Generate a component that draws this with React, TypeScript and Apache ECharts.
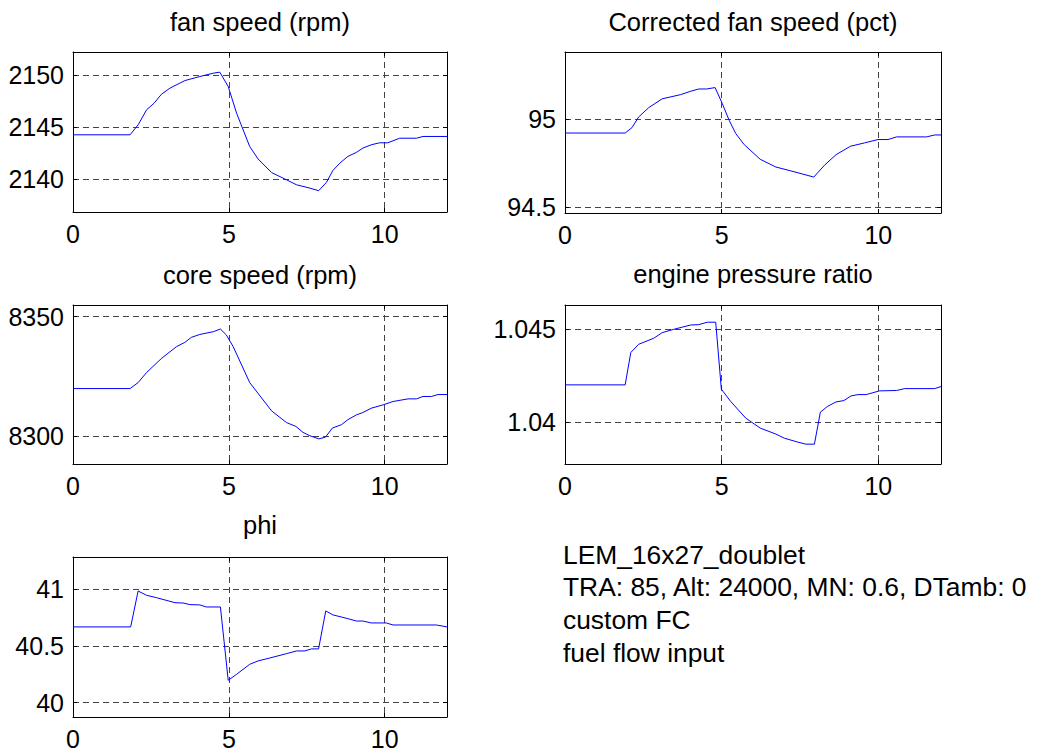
import React, { useEffect, useRef } from "react";
import * as echarts from "echarts";

const FONT = '"Liberation Sans", Arial, sans-serif';

const titles = [
  "fan speed (rpm)",
  "Corrected fan speed (pct)",
  "core speed (rpm)",
  "engine pressure ratio",
  "phi",
];

const infoLines = [
  "LEM_16x27_doublet",
  "TRA: 85, Alt: 24000, MN: 0.6, DTamb: 0",
  "custom FC",
  "fuel flow input",
];

const xRange = [0, 12];
const yRanges = [
  [2136.8, 2152.2],
  [94.466, 95.38],
  [8288.5, 8354.9],
  [1.03778, 1.04628],
  [39.873, 41.285],
];
const yIntervals = [5, 0.5, 50, 0.005, 0.5];
const xInterval = 5;

const fanSpeed: [number, number][] = [
  [0, 2144.23], [1.83, 2144.23], [2.09, 2145.19], [2.36, 2146.63], [2.6, 2147.27],
  [2.84, 2148.14], [3.11, 2148.72], [3.59, 2149.45], [4.07, 2149.84], [4.5, 2150.16],
  [4.71, 2150.26], [4.98, 2148.88], [5.25, 2146.3], [5.67, 2143.1], [5.94, 2141.9],
  [6.37, 2140.6], [6.85, 2139.9], [7.17, 2139.42], [7.6, 2139.1], [7.88, 2138.85],
  [8.13, 2139.64], [8.34, 2140.8], [8.56, 2141.5], [8.82, 2142.15], [9.09, 2142.53],
  [9.3, 2142.95], [9.57, 2143.27], [9.84, 2143.46], [10.1, 2143.46], [10.48, 2143.9],
  [11.02, 2143.9], [11.23, 2144.07], [12, 2144.07],
];

const correctedFanSpeed: [number, number][] = [
  [0, 94.92], [1.92, 94.92], [2.14, 94.951], [2.35, 95.011], [2.67, 95.064],
  [3.1, 95.114], [3.69, 95.138], [4.01, 95.157], [4.27, 95.17], [4.52, 95.17],
  [4.79, 95.178], [5.02, 95.087], [5.24, 94.992], [5.45, 94.917], [5.72, 94.854],
  [6.23, 94.771], [6.73, 94.727], [7.21, 94.705], [7.94, 94.67], [8.28, 94.737],
  [8.65, 94.797], [9.11, 94.845], [9.56, 94.864], [9.99, 94.883], [10.31, 94.883],
  [10.58, 94.898], [11.54, 94.898], [11.8, 94.909], [12, 94.909],
];

const coreSpeed: [number, number][] = [
  [0, 8320.0], [1.83, 8320.0], [2.09, 8322.5], [2.36, 8326.7], [2.84, 8332.6],
  [3.32, 8337.5], [3.59, 8339.3], [3.8, 8341.4], [4.07, 8342.6], [4.5, 8343.75],
  [4.73, 8344.86], [4.92, 8342.4], [5.14, 8337.5], [5.67, 8322.5], [6.37, 8310.7],
  [6.85, 8305.8], [7.15, 8304.2], [7.38, 8301.7], [7.6, 8300.3], [7.89, 8299.0],
  [8.1, 8299.7], [8.32, 8303.5], [8.61, 8304.9], [8.82, 8307.0], [9.09, 8309.0],
  [9.3, 8310.0], [9.57, 8311.8], [9.95, 8313.2], [10.27, 8314.6], [10.75, 8315.7],
  [11.02, 8315.7], [11.23, 8316.7], [11.5, 8316.7], [11.71, 8317.5], [12, 8317.5],
];

const pressureRatio: [number, number][] = [
  [0, 1.04201], [1.92, 1.04201], [2.1, 1.04374], [2.35, 1.04418], [2.83, 1.0445],
  [3.1, 1.0448], [3.47, 1.04498], [4.01, 1.04521], [4.27, 1.04523], [4.54, 1.04536],
  [4.81, 1.04536], [4.99, 1.04178], [5.29, 1.04112], [5.77, 1.04023], [6.23, 1.0397],
  [6.73, 1.03938], [7.0, 1.03916], [7.43, 1.03895], [7.69, 1.03884], [7.96, 1.03884],
  [8.15, 1.04055], [8.37, 1.04085], [8.65, 1.0411], [8.9, 1.04117], [9.13, 1.04142],
  [9.35, 1.04149], [9.61, 1.04149], [10.04, 1.04169], [10.58, 1.04171], [10.84, 1.04181],
  [11.8, 1.04181], [12, 1.04192],
];

const phi: [number, number][] = [
  [0, 40.668], [1.85, 40.668], [2.09, 40.985], [2.36, 40.947], [2.68, 40.926],
  [3.27, 40.882], [3.53, 40.879], [3.75, 40.865], [4.07, 40.862], [4.28, 40.844],
  [4.73, 40.844], [4.98, 40.197], [5.25, 40.25], [5.67, 40.338], [5.94, 40.368],
  [6.32, 40.394], [6.85, 40.432], [7.17, 40.456], [7.44, 40.456], [7.65, 40.474],
  [7.88, 40.474], [8.11, 40.809], [8.34, 40.774], [8.82, 40.741], [9.09, 40.72],
  [9.3, 40.72], [9.57, 40.703], [10.05, 40.703], [10.27, 40.685], [11.66, 40.685],
  [12, 40.668],
];

const seriesData = [fanSpeed, correctedFanSpeed, coreSpeed, pressureRatio, phi];

const gridBoxes = [
  { left: 73, top: 52, width: 374, height: 160 },
  { left: 565, top: 52, width: 376, height: 161 },
  { left: 73, top: 305, width: 374, height: 159 },
  { left: 565, top: 305, width: 376, height: 159 },
  { left: 73, top: 557, width: 374, height: 160 },
];
const titleCenters = [22, 22, 274.5, 274, 524.5];
const infoCenters = [555, 587, 619.5, 652.5];

const fmt = (v: number) => String(parseFloat(Number(v).toFixed(6)));

export default function App() {
  const ref = useRef<HTMLDivElement>(null);

  useEffect(() => {
    if (!ref.current) return;
    const chart = echarts.init(ref.current, null, { renderer: "svg" });

    const axisLine = { show: true, onZero: false, lineStyle: { color: "#000", width: 1 } };
    const axisTick = { show: true, inside: true, length: 4, lineStyle: { color: "#000" } };
    const splitLine = {
      show: true,
      showMinLine: false,
      showMaxLine: false,
      lineStyle: { color: "#444", type: [6, 4], width: 1 },
    };
    const labelStyle = { color: "#000", fontSize: 25, fontFamily: FONT, formatter: fmt };

    const xAxis: any[] = [];
    const yAxis: any[] = [];
    const series: any[] = [];
    const graphic: any[] = [];

    gridBoxes.forEach((g, i) => {
      const [ymin, ymax] = yRanges[i];
      xAxis.push({
        type: "value",
        gridIndex: i,
        position: "bottom",
        min: xRange[0],
        max: xRange[1],
        interval: xInterval,
        axisLine,
        axisTick,
        splitLine,
        axisLabel: { ...labelStyle, margin: 9, showMaxLabel: false },
      });
      xAxis.push({
        type: "value",
        gridIndex: i,
        position: "top",
        min: xRange[0],
        max: xRange[1],
        interval: xInterval,
        axisLine,
        axisTick,
        splitLine: { show: false },
        axisLabel: { show: false },
      });
      const yCommon = {
        type: "value",
        gridIndex: i,
        min: ymin,
        max: ymax,
        splitNumber: 2,
        minInterval: yIntervals[i],
        maxInterval: yIntervals[i],
        scale: true,
      };
      yAxis.push({
        ...yCommon,
        position: "left",
        axisLine,
        axisTick,
        splitLine,
        axisLabel: { ...labelStyle, margin: 9, showMinLabel: false, showMaxLabel: false },
      });
      yAxis.push({
        ...yCommon,
        position: "right",
        axisLine,
        axisTick,
        splitLine: { show: false },
        axisLabel: { show: false },
      });
      series.push({
        type: "line",
        xAxisIndex: 2 * i,
        yAxisIndex: 2 * i,
        data: seriesData[i],
        showSymbol: false,
        symbol: "none",
        lineStyle: { color: "#0000ff", width: 1 },
        itemStyle: { color: "#0000ff" },
      });
      graphic.push({
        type: "text",
        x: g.left + g.width / 2,
        y: titleCenters[i],
        style: {
          text: titles[i],
          fill: "#000",
          font: `25.5px ${FONT}`,
          textAlign: "center",
          textVerticalAlign: "middle",
        },
      });
    });

    infoLines.forEach((line, k) => {
      graphic.push({
        type: "text",
        x: 563,
        y: infoCenters[k],
        style: {
          text: line,
          fill: "#000",
          font: `26.4px ${FONT}`,
          textAlign: "left",
          textVerticalAlign: "middle",
        },
      });
    });

    chart.setOption({
      animation: false,
      backgroundColor: "#fff",
      grid: gridBoxes.map((g) => ({ ...g, containLabel: false, show: false })),
      xAxis,
      yAxis,
      series,
      graphic,
    });

    return () => chart.dispose();
  }, []);

  return (
    <div
      ref={ref}
      style={{ position: "fixed", left: 0, top: 0, width: 1037, height: 751, background: "#fff" }}
    />
  );
}
